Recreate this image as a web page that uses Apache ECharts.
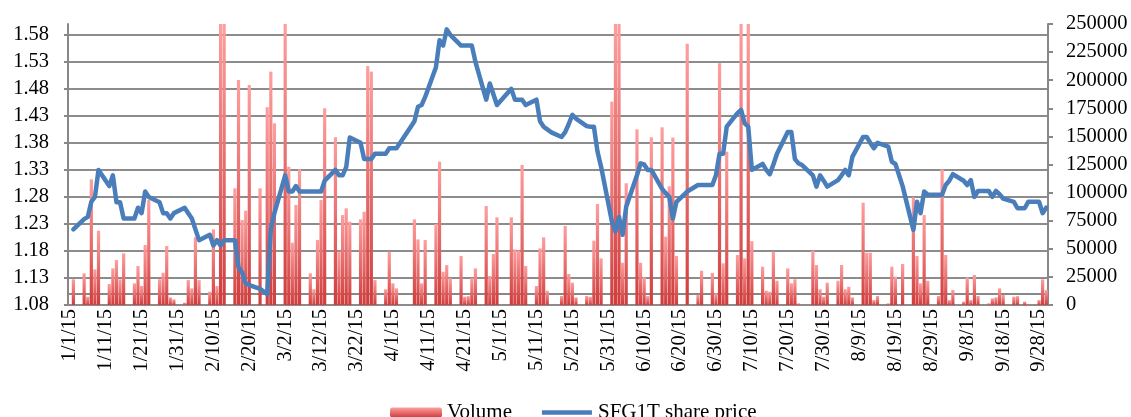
<!DOCTYPE html>
<html>
<head>
    <meta charset="utf-8">
    <script src="https://cdn.jsdelivr.net/npm/echarts@6.0.0/dist/echarts.min.js"></script>
    <style>
        body { margin: 0; background: #fff; }
        #main { width: 1131px; height: 417px; }
    </style>
</head>
<body>
<div id="main"></div>
<script type="text/javascript">
    // calendar days 1/1/15 .. 9/30/15 (category axis, label every 10 days)
    var days = [];
    for (var i = 0; i < 273; i++) {
        var t = new Date(2015, 0, 1 + i);
        days.push((t.getMonth() + 1) + '/' + t.getDate() + '/15');
    }

    var leftTicks = [1.08, 1.13, 1.18, 1.23, 1.28, 1.33, 1.38, 1.43, 1.48, 1.53, 1.58];

    // SFG1T share price, trading days
    var price = [
        ['1/2/15', 1.22], ['1/5/15', 1.239], ['1/6/15', 1.243], ['1/7/15', 1.271], ['1/8/15', 1.28], ['1/9/15', 1.33],
        ['1/12/15', 1.30], ['1/13/15', 1.32], ['1/14/15', 1.27], ['1/15/15', 1.27], ['1/16/15', 1.24],
        ['1/19/15', 1.24], ['1/20/15', 1.26], ['1/21/15', 1.25], ['1/22/15', 1.29], ['1/23/15', 1.28],
        ['1/26/15', 1.27], ['1/27/15', 1.25], ['1/28/15', 1.25], ['1/29/15', 1.24], ['1/30/15', 1.25],
        ['2/2/15', 1.26], ['2/3/15', 1.25], ['2/4/15', 1.24], ['2/5/15', 1.22], ['2/6/15', 1.20],
        ['2/9/15', 1.21], ['2/10/15', 1.19], ['2/11/15', 1.20], ['2/12/15', 1.19], ['2/13/15', 1.20],
        ['2/16/15', 1.20], ['2/17/15', 1.15], ['2/18/15', 1.14], ['2/19/15', 1.12], ['2/20/15', 1.117],
        ['2/23/15', 1.11], ['2/25/15', 1.10], ['2/26/15', 1.22], ['2/27/15', 1.25],
        ['3/2/15', 1.32], ['3/3/15', 1.29], ['3/4/15', 1.29], ['3/5/15', 1.30], ['3/6/15', 1.29],
        ['3/9/15', 1.29], ['3/10/15', 1.29], ['3/11/15', 1.29], ['3/12/15', 1.29], ['3/13/15', 1.31],
        ['3/16/15', 1.33], ['3/17/15', 1.32], ['3/18/15', 1.32], ['3/19/15', 1.335], ['3/20/15', 1.39],
        ['3/23/15', 1.38], ['3/24/15', 1.35], ['3/25/15', 1.35], ['3/26/15', 1.35], ['3/27/15', 1.36],
        ['3/30/15', 1.36], ['3/31/15', 1.37], ['4/1/15', 1.37], ['4/2/15', 1.37],
        ['4/6/15', 1.41], ['4/7/15', 1.42], ['4/8/15', 1.447], ['4/9/15', 1.45], ['4/10/15', 1.465],
        ['4/13/15', 1.52], ['4/14/15', 1.57], ['4/15/15', 1.56], ['4/16/15', 1.59], ['4/17/15', 1.58],
        ['4/20/15', 1.56], ['4/21/15', 1.56], ['4/22/15', 1.56], ['4/23/15', 1.56], ['4/24/15', 1.53],
        ['4/27/15', 1.46], ['4/28/15', 1.49], ['4/29/15', 1.47], ['4/30/15', 1.45],
        ['5/4/15', 1.48], ['5/5/15', 1.46], ['5/6/15', 1.46], ['5/7/15', 1.46], ['5/8/15', 1.45],
        ['5/11/15', 1.46], ['5/12/15', 1.42], ['5/13/15', 1.41], ['5/14/15', 1.405], ['5/15/15', 1.40],
        ['5/18/15', 1.391], ['5/19/15', 1.40], ['5/20/15', 1.415], ['5/21/15', 1.432], ['5/22/15', 1.425],
        ['5/25/15', 1.411], ['5/26/15', 1.41], ['5/27/15', 1.41], ['5/28/15', 1.364], ['5/29/15', 1.336],
        ['6/1/15', 1.235], ['6/2/15', 1.216], ['6/3/15', 1.243], ['6/4/15', 1.21], ['6/5/15', 1.262],
        ['6/8/15', 1.32], ['6/9/15', 1.342], ['6/10/15', 1.34], ['6/11/15', 1.33], ['6/12/15', 1.33],
        ['6/15/15', 1.295], ['6/16/15', 1.287], ['6/17/15', 1.28], ['6/18/15', 1.24], ['6/19/15', 1.271],
        ['6/22/15', 1.29], ['6/25/15', 1.302], ['6/26/15', 1.302], ['6/29/15', 1.302], ['6/30/15', 1.32],
        ['7/1/15', 1.36], ['7/2/15', 1.36], ['7/3/15', 1.41], ['7/6/15', 1.435], ['7/7/15', 1.441],
        ['7/8/15', 1.416], ['7/9/15', 1.41], ['7/10/15', 1.33], ['7/13/15', 1.341], ['7/14/15', 1.33],
        ['7/15/15', 1.322], ['7/16/15', 1.34], ['7/17/15', 1.36], ['7/20/15', 1.40], ['7/21/15', 1.40],
        ['7/22/15', 1.35], ['7/23/15', 1.342], ['7/24/15', 1.339], ['7/27/15', 1.32], ['7/28/15', 1.299],
        ['7/29/15', 1.32], ['7/30/15', 1.31], ['7/31/15', 1.299],
        ['8/3/15', 1.311], ['8/4/15', 1.32], ['8/5/15', 1.33], ['8/6/15', 1.32], ['8/7/15', 1.354],
        ['8/10/15', 1.391], ['8/11/15', 1.391], ['8/12/15', 1.38], ['8/13/15', 1.37], ['8/14/15', 1.38],
        ['8/17/15', 1.373], ['8/18/15', 1.345], ['8/19/15', 1.341], ['8/21/15', 1.30],
        ['8/24/15', 1.219], ['8/25/15', 1.271], ['8/26/15', 1.25], ['8/27/15', 1.29], ['8/28/15', 1.284],
        ['8/31/15', 1.284], ['9/1/15', 1.284], ['9/2/15', 1.302], ['9/3/15', 1.31], ['9/4/15', 1.322],
        ['9/7/15', 1.31], ['9/8/15', 1.302], ['9/9/15', 1.311], ['9/10/15', 1.28], ['9/11/15', 1.291],
        ['9/14/15', 1.291], ['9/15/15', 1.28], ['9/16/15', 1.291], ['9/17/15', 1.285], ['9/18/15', 1.277],
        ['9/21/15', 1.271], ['9/22/15', 1.259], ['9/23/15', 1.259], ['9/24/15', 1.259], ['9/25/15', 1.271],
        ['9/28/15', 1.271], ['9/29/15', 1.25], ['9/30/15', 1.26]
    ];

    // daily volume (values above 250000 run off the top of the chart)
    var volume = [
        ['1/2/15', 22900], ['1/5/15', 28200], ['1/6/15', 7400], ['1/7/15', 111800], ['1/8/15', 31700], ['1/9/15', 66100],
        ['1/12/15', 18700], ['1/13/15', 32600], ['1/14/15', 40000], ['1/15/15', 22900], ['1/16/15', 46000],
        ['1/19/15', 19300], ['1/20/15', 34700], ['1/21/15', 16900], ['1/22/15', 53400], ['1/23/15', 93400],
        ['1/26/15', 22900], ['1/27/15', 28700], ['1/28/15', 52500], ['1/29/15', 6800], ['1/30/15', 5000],
        ['2/2/15', 2000], ['2/3/15', 22200], ['2/4/15', 14800], ['2/5/15', 60200], ['2/6/15', 22200],
        ['2/9/15', 11900], ['2/10/15', 67300], ['2/11/15', 16900], ['2/12/15', 290000], ['2/13/15', 290000],
        ['2/16/15', 103800], ['2/17/15', 200200], ['2/18/15', 75600], ['2/19/15', 83900], ['2/20/15', 195700],
        ['2/23/15', 103800], ['2/25/15', 176000], ['2/26/15', 207600], ['2/27/15', 161600],
        ['3/2/15', 290000], ['3/3/15', 123000], ['3/4/15', 55400], ['3/5/15', 89000], ['3/6/15', 120700],
        ['3/9/15', 28200], ['3/10/15', 14000], ['3/11/15', 57800], ['3/12/15', 93400], ['3/13/15', 175000],
        ['3/16/15', 149200], ['3/17/15', 47400], ['3/18/15', 80000], ['3/19/15', 86000], ['3/20/15', 74100],
        ['3/23/15', 76200], ['3/24/15', 83000], ['3/25/15', 212600], ['3/26/15', 207600], ['3/27/15', 22200],
        ['3/30/15', 14000], ['3/31/15', 47400], ['4/1/15', 19300], ['4/2/15', 14800],
        ['4/7/15', 76200], ['4/8/15', 58400], ['4/9/15', 19300], ['4/10/15', 57800],
        ['4/13/15', 72100], ['4/14/15', 127500], ['4/15/15', 29600], ['4/16/15', 35600], ['4/17/15', 23800],
        ['4/20/15', 43600], ['4/21/15', 7400], ['4/22/15', 7900], ['4/23/15', 23800], ['4/24/15', 32600],
        ['4/27/15', 88100], ['4/28/15', 25800], ['4/29/15', 45400], ['4/30/15', 78000],
        ['5/4/15', 78000], ['5/5/15', 49500], ['5/6/15', 48300], ['5/7/15', 124600], ['5/8/15', 34700],
        ['5/11/15', 16900], ['5/12/15', 50400], ['5/13/15', 60200], ['5/14/15', 12700],
        ['5/18/15', 8000], ['5/19/15', 70300], ['5/20/15', 27600], ['5/21/15', 19900], ['5/22/15', 6800],
        ['5/25/15', 8000], ['5/26/15', 7400], ['5/27/15', 57200], ['5/28/15', 89900], ['5/29/15', 41500],
        ['6/1/15', 180900], ['6/2/15', 290000], ['6/3/15', 290000], ['6/4/15', 37600], ['6/5/15', 108300],
        ['6/8/15', 156300], ['6/9/15', 37600], ['6/10/15', 24600], ['6/11/15', 7900], ['6/12/15', 149200],
        ['6/15/15', 158100], ['6/16/15', 60800], ['6/17/15', 105600], ['6/18/15', 149000], ['6/19/15', 43600],
        ['6/22/15', 232500], ['6/25/15', 8900], ['6/26/15', 30500], ['6/29/15', 28500], ['6/30/15', 10400],
        ['7/1/15', 215000], ['7/2/15', 37100], ['7/3/15', 136400], ['7/6/15', 44500], ['7/7/15', 290000],
        ['7/8/15', 41500], ['7/9/15', 290000], ['7/10/15', 56800], ['7/13/15', 34100], ['7/14/15', 12700],
        ['7/15/15', 11900], ['7/16/15', 47400], ['7/17/15', 21600], ['7/20/15', 32600], ['7/21/15', 19300],
        ['7/22/15', 22900], ['7/23/15', 1500], ['7/27/15', 48300], ['7/28/15', 35600], ['7/29/15', 14000],
        ['7/30/15', 7400], ['7/31/15', 19900],
        ['8/3/15', 21600], ['8/4/15', 35600], ['8/5/15', 14000], ['8/6/15', 16300], ['8/7/15', 6800],
        ['8/10/15', 91000], ['8/11/15', 46500], ['8/12/15', 46500], ['8/13/15', 4400], ['8/14/15', 8000],
        ['8/17/15', 1500], ['8/18/15', 34100], ['8/19/15', 25200], ['8/21/15', 36500],
        ['8/24/15', 95800], ['8/25/15', 43600], ['8/26/15', 19300], ['8/27/15', 80000], ['8/28/15', 21600],
        ['8/31/15', 8000], ['9/1/15', 120700], ['9/2/15', 44500], ['9/3/15', 4400], ['9/4/15', 13300],
        ['9/7/15', 3000], ['9/8/15', 24600], ['9/9/15', 4400], ['9/10/15', 26700], ['9/11/15', 8000],
        ['9/14/15', 1500], ['9/15/15', 5900], ['9/16/15', 6800], ['9/17/15', 14800], ['9/18/15', 8900],
        ['9/21/15', 7400], ['9/22/15', 7900], ['9/24/15', 3000], ['9/25/15', 1000],
        ['9/28/15', 4400], ['9/29/15', 22900], ['9/30/15', 13300]
    ];

    var font = 'Liberation Serif, Times New Roman, serif';
    var grey = '#878787';

    var myChart = echarts.init(document.getElementById('main'));
    myChart.setOption({
        animation: false,
        grid: { left: 68, right: 83, top: 24, bottom: 112 },
        legend: {
            data: [
                { name: 'Volume' },
                // plain line icon, no marker (invisible corner points keep it thin and centred)
                { name: 'SFG1T share price', icon: 'path://M0,0 L0.01,0 L0,0.01 Z M0,20 L0.01,20 L0,19.99 Z M0,5.5 L100,5.5 L100,14.5 L0,14.5 Z' }
            ],
            left: 385,
            top: 397,
            itemWidth: 52,
            itemHeight: 10,
            itemGap: 30,
            textStyle: { fontFamily: font, fontSize: 21, color: '#000' }
        },
        xAxis: {
            type: 'category',
            data: days,
            offset: -11,
            axisLine: { lineStyle: { color: grey, width: 2 } },
            axisTick: { interval: 9, length: 6, lineStyle: { color: grey, width: 2 } },
            axisLabel: { interval: 9, rotate: 90, margin: 15, fontFamily: font, fontSize: 20.5, color: '#000' }
        },
        yAxis: [{
            type: 'value',
            position: 'left',
            min: 1.08,
            max: 1.6,
            axisLine: { show: true, lineStyle: { color: grey, width: 2 } },
            axisTick: { show: true, customValues: leftTicks, length: 4, lineStyle: { color: grey, width: 2 } },
            axisLabel: {
                customValues: leftTicks, margin: 19, fontFamily: font, fontSize: 20.5, color: '#000',
                formatter: function (v) { return v.toFixed(2); }
            },
            splitLine: { show: true, lineStyle: { color: '#8c8c8c', width: 2 } }
        }, {
            type: 'value',
            position: 'right',
            min: 0,
            max: 250000,
            interval: 25000,
            axisLine: { show: true, lineStyle: { color: grey, width: 2 } },
            axisTick: { show: true, length: 5, lineStyle: { color: grey, width: 2 } },
            axisLabel: {
                margin: 18, fontFamily: font, fontSize: 20.5, color: '#000',
                formatter: function (v) { return String(v); }
            },
            splitLine: { show: false }
        }],
        series: [{
            name: 'Volume',
            type: 'bar',
            yAxisIndex: 1,
            data: volume,
            barWidth: 3.2,
            clip: true,
            itemStyle: {
                color: new echarts.graphic.LinearGradient(0, 0, 0, 1, [
                    { offset: 0, color: '#ff9e9e' },
                    { offset: 1, color: '#d03c3c' }
                ])
            }
        }, {
            name: 'SFG1T share price',
            type: 'line',
            yAxisIndex: 0,
            data: price,
            showSymbol: false,
            symbol: 'none',
            lineStyle: { color: '#4a7ebb', width: 4.5, cap: 'round', join: 'round' },
            itemStyle: { color: '#4a7ebb' }
        }]
    });
</script>
</body>
</html>
